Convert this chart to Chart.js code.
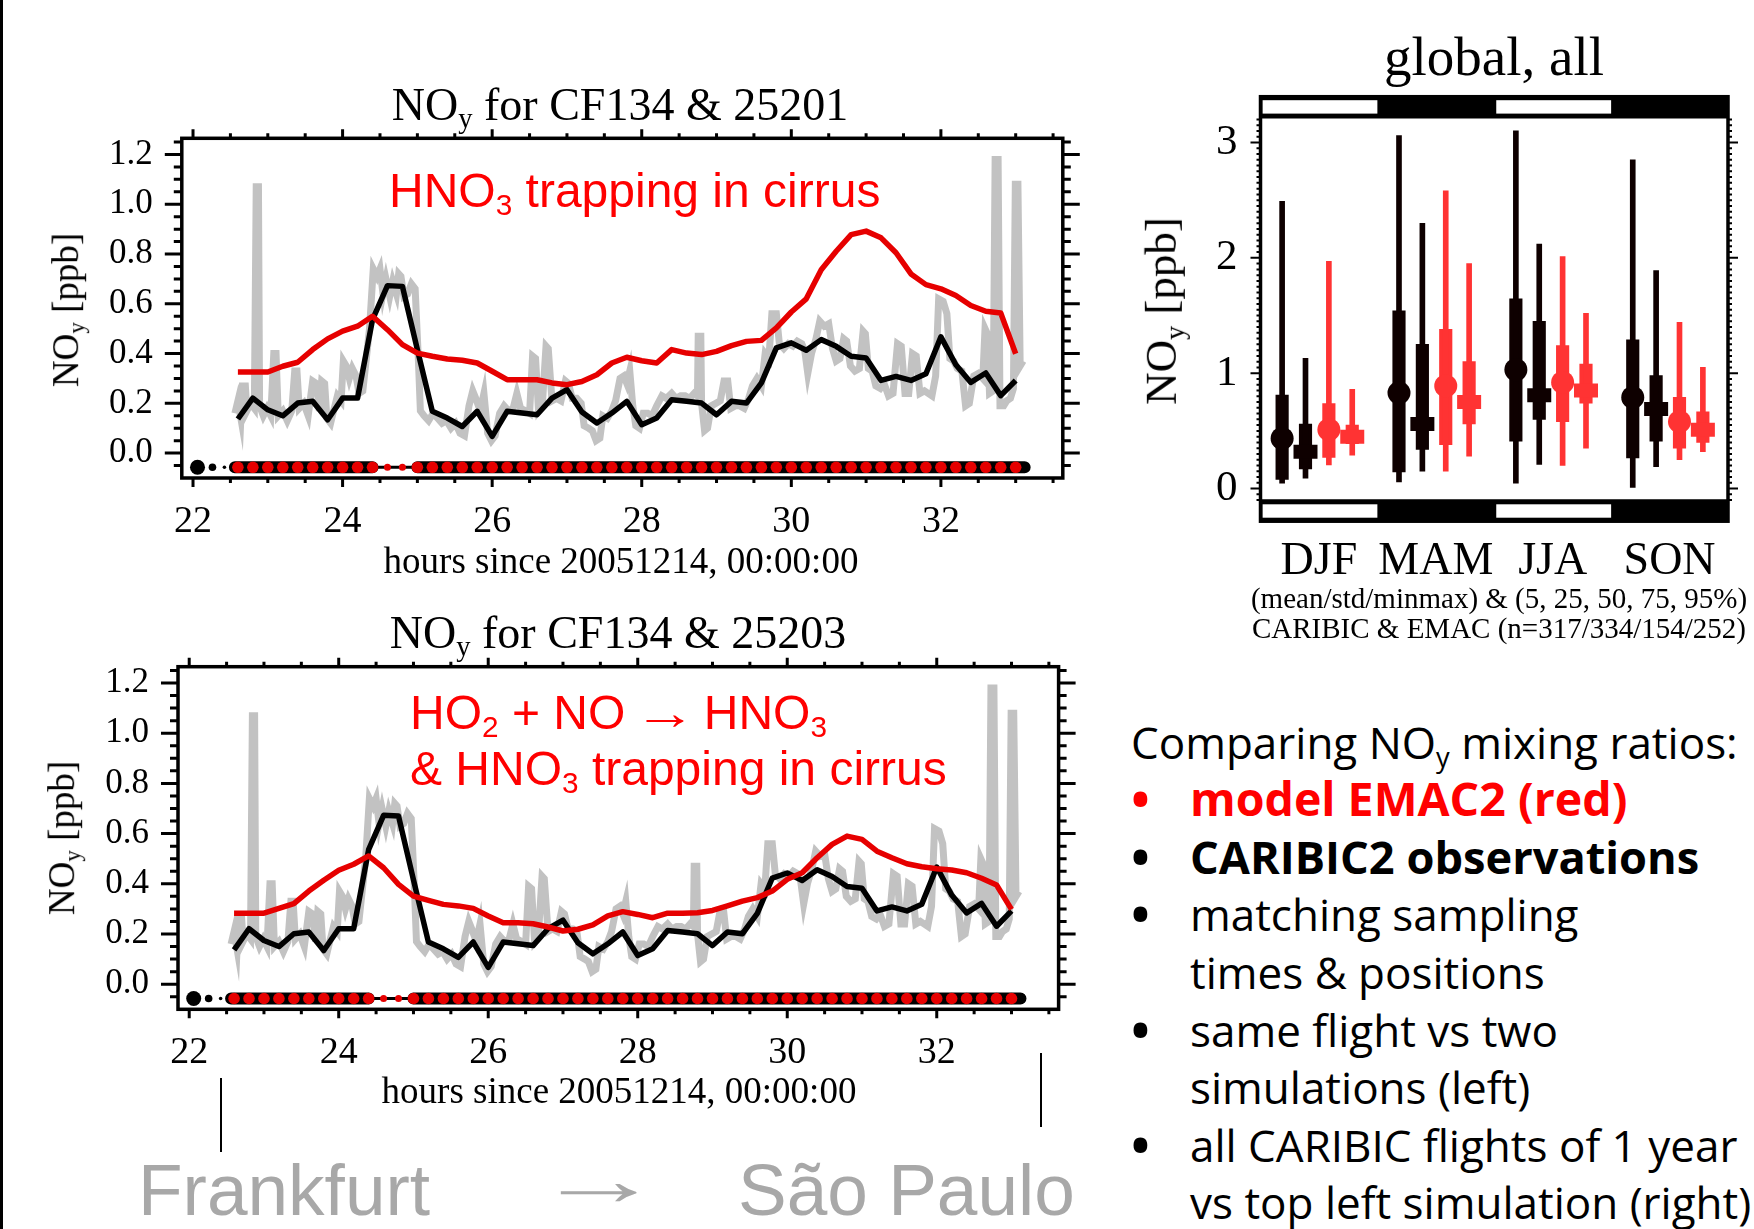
<!DOCTYPE html>
<html>
<head>
<meta charset="utf-8">
<script src="https://cdn.jsdelivr.net/npm/chart.js@4.4.1/dist/chart.umd.min.js"></script>
<style>
  html, body { margin: 0; padding: 0; }
  body { width: 1754px; height: 1229px; overflow: hidden; background: #fff; position: relative; }
  .box { position: absolute; }
  .box canvas { display: block; }
  .lbl { position: absolute; white-space: nowrap; line-height: 1.2; color: #000; }
  .bl { display: inline-block; width: 0; height: 0; }
  .lbl sub { font-size: 0.62em; vertical-align: -0.28em; line-height: 0; }
  .arr { display: inline-block; transform: scaleX(1.3); margin: 0 0.04em; }
  .arr-big { display: inline-block; transform: scaleX(1.75); }
  .vline { position: absolute; background: #000; width: 2px; }
</style>
</head>
<body>
<div class="vline" style="left:0;top:0;width:3px;height:1229px"></div>
<div class="box" style="left:0;top:60px;width:1110px;height:520px"><canvas id="cTop" width="1110" height="520"></canvas></div>
<div class="box" style="left:0;top:588px;width:1110px;height:520px"><canvas id="cBot" width="1110" height="520"></canvas></div>
<div class="box" style="left:1100px;top:20px;width:654px;height:600px"><canvas id="cSeas" width="654" height="600"></canvas></div>
<div class="vline" style="left:220px;top:1078px;height:74px"></div>
<div class="vline" style="left:1040px;top:1053px;height:74px"></div>

<script>
// ---- flight CF134, hours since 20051214 00:00 ----
const hours = [22.6, 22.8, 23.0, 23.2, 23.4, 23.6, 23.8, 24.0, 24.2, 24.4, 24.6, 24.8, 25.0,
  25.2, 25.4, 25.6, 25.8, 26.0, 26.2, 26.4, 26.6, 26.8, 27.0, 27.2, 27.4, 27.6, 27.8, 28.0,
  28.2, 28.4, 28.6, 28.8, 29.0, 29.2, 29.4, 29.6, 29.8, 30.0, 30.2, 30.4, 30.6, 30.8, 31.0,
  31.2, 31.4, 31.6, 31.8, 32.0, 32.2, 32.4, 32.6, 32.8, 33.0];

// CARIBIC2 NOy, averaged (black)
const obsAvg = [0.137, 0.221, 0.174, 0.150, 0.201, 0.208, 0.134, 0.221, 0.221, 0.536, 0.673, 0.670, 0.416,
  0.168, 0.141, 0.107, 0.168, 0.067, 0.168, 0.161, 0.154, 0.221, 0.255, 0.165, 0.121, 0.161, 0.208, 0.114,
  0.141, 0.214, 0.208, 0.201, 0.154, 0.208, 0.201, 0.282, 0.423, 0.443, 0.413, 0.456, 0.429, 0.389, 0.382,
  0.292, 0.308, 0.292, 0.319, 0.467, 0.355, 0.284, 0.322, 0.231, 0.292];

// EMAC2 simulation 25201 (top) and 25203 (bottom)
const model25201 = [0.326, 0.326, 0.326, 0.349, 0.365, 0.416, 0.459, 0.490, 0.510, 0.550, 0.496, 0.436, 0.402,
  0.389, 0.378, 0.373, 0.362, 0.329, 0.295, 0.295, 0.295, 0.282, 0.275, 0.288, 0.315, 0.362, 0.385, 0.371,
  0.362, 0.416, 0.402, 0.396, 0.409, 0.432, 0.449, 0.453, 0.503, 0.567, 0.620, 0.737, 0.811, 0.878, 0.892,
  0.865, 0.805, 0.720, 0.677, 0.660, 0.633, 0.593, 0.570, 0.563, 0.399];
const model25203 = [0.283, 0.283, 0.283, 0.302, 0.321, 0.371, 0.414, 0.454, 0.478, 0.511, 0.464, 0.398, 0.351,
  0.334, 0.318, 0.312, 0.302, 0.272, 0.245, 0.245, 0.241, 0.228, 0.212, 0.219, 0.236, 0.272, 0.289, 0.278,
  0.265, 0.283, 0.283, 0.285, 0.294, 0.312, 0.331, 0.345, 0.371, 0.418, 0.444, 0.504, 0.557, 0.590, 0.577,
  0.530, 0.504, 0.480, 0.468, 0.460, 0.455, 0.444, 0.422, 0.395, 0.298];

// CARIBIC2 NOy, full resolution (grey)
const rawHours = [22.56, 22.60, 22.64, 22.66, 22.70, 22.72, 22.77, 22.82, 22.845, 22.875, 22.89, 22.94, 22.99,
  23.04, 23.08, 23.11, 23.14, 23.20, 23.26, 23.32, 23.36, 23.39, 23.42, 23.48, 23.54, 23.60, 23.65, 23.69,
  23.72, 23.76, 23.79, 23.84, 23.88, 23.93, 23.98, 24.01, 24.05, 24.09, 24.13, 24.18, 24.22, 24.27, 24.31,
  24.36, 24.41, 24.46, 24.50, 24.54, 24.58, 24.63, 24.67, 24.72, 24.75, 24.78, 24.82, 24.87, 24.92, 24.97,
  25.01, 25.04, 25.09, 25.15, 25.21, 25.27, 25.33, 25.39, 25.45, 25.51, 25.57, 25.63, 25.69, 25.74, 25.78,
  25.84, 25.89, 25.94, 25.99, 26.04, 26.10, 26.16, 26.22, 26.28, 26.33, 26.38, 26.45, 26.50, 26.54, 26.58,
  26.62, 26.67, 26.72, 26.75, 26.80, 26.86, 26.92, 26.98, 27.02, 27.07, 27.13, 27.19, 27.23, 27.29, 27.34,
  27.39, 27.44, 27.48, 27.54, 27.60, 27.65, 27.71, 27.76, 27.80, 27.84, 27.88, 27.92, 27.97, 28.02, 28.08,
  28.14, 28.20, 28.27, 28.33, 28.40, 28.46, 28.52, 28.58, 28.64, 28.70, 28.745, 28.755, 28.79, 28.80, 28.84,
  28.88, 28.93, 28.99, 29.05, 29.10, 29.15, 29.19, 29.25, 29.31, 29.37, 29.43, 29.48, 29.54, 29.60, 29.65,
  29.70, 29.74, 29.80, 29.84, 29.90, 29.96, 30.02, 30.08, 30.14, 30.18, 30.22, 30.27, 30.33, 30.38, 30.44,
  30.50, 30.55, 30.60, 30.65, 30.70, 30.74, 30.79, 30.85, 30.91, 30.96, 30.99, 31.03, 31.08, 31.13, 31.19,
  31.24, 31.30, 31.36, 31.42, 31.47, 31.52, 31.57, 31.62, 31.67, 31.72, 31.78, 31.83, 31.88, 31.93, 31.97,
  32.03, 32.08, 32.12, 32.17, 32.22, 32.28, 32.33, 32.38, 32.44, 32.50, 32.56, 32.59, 32.62, 32.65, 32.70,
  32.725, 32.765, 32.79, 32.84, 32.88, 32.93, 32.97, 32.995, 33.03, 33.06, 33.10];
const rawObs = [0.16, 0.21, 0.14, 0.27, 0.27, 0.17, 0.20, 0.18, 1.07, 1.07, 0.19, 0.15, 0.18,
  0.15, 0.40, 0.40, 0.15, 0.17, 0.13, 0.17, 0.33, 0.33, 0.18, 0.20, 0.15, 0.29, 0.28, 0.17,
  0.29, 0.28, 0.14, 0.12, 0.17, 0.23, 0.21, 0.37, 0.35, 0.30, 0.34, 0.31, 0.24, 0.25, 0.36,
  0.50, 0.74, 0.71, 0.74, 0.64, 0.70, 0.63, 0.69, 0.64, 0.72, 0.71, 0.63, 0.64, 0.68, 0.66,
  0.40, 0.17, 0.15, 0.13, 0.16, 0.14, 0.12, 0.13, 0.10, 0.12, 0.08, 0.07, 0.19, 0.25, 0.22,
  0.17, 0.24, 0.08, 0.05, 0.07, 0.16, 0.19, 0.17, 0.18, 0.24, 0.18, 0.17, 0.16, 0.39, 0.38,
  0.17, 0.19, 0.43, 0.42, 0.21, 0.22, 0.21, 0.29, 0.28, 0.22, 0.22, 0.20, 0.11, 0.10, 0.09,
  0.05, 0.06, 0.15, 0.14, 0.17, 0.21, 0.30, 0.31, 0.28, 0.33, 0.19, 0.11, 0.10, 0.16, 0.16,
  0.15, 0.19, 0.23, 0.22, 0.24, 0.22, 0.23, 0.23, 0.22, 0.24, 0.23, 0.47, 0.47, 0.20, 0.09,
  0.10, 0.19, 0.20, 0.21, 0.29, 0.29, 0.18, 0.19, 0.19, 0.18, 0.22, 0.27, 0.30, 0.27, 0.40,
  0.38, 0.56, 0.56, 0.44, 0.42, 0.44, 0.43, 0.45, 0.44, 0.41, 0.32, 0.40, 0.46, 0.53, 0.51,
  0.52, 0.42, 0.37, 0.38, 0.46, 0.45, 0.35, 0.33, 0.34, 0.49, 0.48, 0.34, 0.33, 0.27, 0.26,
  0.28, 0.23, 0.24, 0.44, 0.43, 0.24, 0.24, 0.40, 0.39, 0.24, 0.25, 0.24, 0.23, 0.31, 0.62,
  0.61, 0.56, 0.38, 0.37, 0.34, 0.33, 0.19, 0.20, 0.31, 0.32, 0.30, 0.50, 0.48, 0.24, 0.25,
  1.18, 1.18, 0.19, 0.19, 0.21, 0.22, 0.26, 1.08, 1.08, 0.35, 0.37];

// sample flags along the bottom of each panel
const obsFlagSpans = [[22.56, 24.40], [25.00, 33.12]];
const obsFlagThin = [24.40, 25.00];
const leadFlagHours = [22.06, 22.26, 22.42];
const smallFlagHours = [24.6, 24.8];

const xTickVals = [22, 24, 26, 28, 30, 32];
const yTickVals = [0, 0.2, 0.4, 0.6, 0.8, 1.0, 1.2];

// ---- seasonal statistics, global, all ----
const seasons = ['DJF', 'MAM', 'JJA', 'SON'];
const obsMin = [0.046, 0.057, 0.046, 0.01];
const obsMax = [2.49, 3.06, 3.10, 2.85];
const obsStdLo = [0.08, 0.145, 0.41, 0.265];
const obsStdHi = [0.81, 1.54, 1.645, 1.29];
const obsMean = [0.435, 0.83, 1.03, 0.79];
const obsP5 = [0.09, 0.15, 0.21, 0.19];
const obsP25 = [0.17, 0.34, 0.60, 0.41];
const obsP50 = [0.32, 0.56, 0.81, 0.69];
const obsP75 = [0.56, 1.25, 1.45, 0.98];
const obsP95 = [1.13, 2.30, 2.12, 1.89];
const modMin = [0.205, 0.15, 0.20, 0.25];
const modMax = [1.97, 2.58, 2.01, 1.44];
const modStdLo = [0.27, 0.38, 0.58, 0.35];
const modStdHi = [0.736, 1.38, 1.24, 0.79];
const modMean = [0.51, 0.89, 0.92, 0.58];
const modP5 = [0.29, 0.28, 0.35, 0.32];
const modP25 = [0.39, 0.56, 0.74, 0.40];
const modP50 = [0.45, 0.75, 0.85, 0.51];
const modP75 = [0.55, 1.10, 1.08, 0.665];
const modP95 = [0.86, 1.95, 1.52, 1.05];
const seasTickVals = [0, 1, 2, 3];

Chart.defaults.font.family = "'Liberation Serif', 'Times New Roman', serif";
Chart.defaults.color = '#000';

const RED = '#e60000';
const FLAG_Y = -0.057;

const frameTicks = {
  id: 'frameTicks',
  afterDatasetsDraw(chart) {
    const { ctx, chartArea: a, scales: { x, y } } = chart;
    ctx.save();
    ctx.strokeStyle = '#000';
    ctx.lineWidth = 3;
    ctx.beginPath();
    for (let k = 44; k <= 67; k++) {
      const px = x.getPixelForValue(k / 2);
      const len = k % 4 === 0 ? 9 : 5;
      ctx.moveTo(px, a.top); ctx.lineTo(px, a.top - len);
      ctx.moveTo(px, a.bottom); ctx.lineTo(px, a.bottom + len);
    }
    for (let k = -1; k <= 25; k++) {
      const py = y.getPixelForValue(k * 0.05);
      const len = k % 4 === 0 ? 17 : 8;
      ctx.moveTo(a.left, py); ctx.lineTo(a.left - len, py);
      ctx.moveTo(a.right, py); ctx.lineTo(a.right + len, py);
    }
    ctx.stroke();
    ctx.lineWidth = 3.5;
    ctx.strokeRect(a.left, a.top, a.right - a.left, a.bottom - a.top);
    ctx.restore();
  }
};

function flightChart(id, model, pad) {
  const pts = (xs, ys) => xs.map((h, i) => ({ x: h, y: ys[i] }));
  const spans = [];
  obsFlagSpans.forEach((s, i) => {
    if (i) spans.push({ x: (obsFlagSpans[i - 1][1] + s[0]) / 2, y: null });
    spans.push({ x: s[0], y: FLAG_Y }, { x: s[1], y: FLAG_Y });
  });
  return new Chart(document.getElementById(id), {
    type: 'line',
    data: {
      datasets: [
        { label: 'EMAC2', data: pts(hours, model), borderColor: RED, borderWidth: 5.5, order: 0 },
        { label: 'CARIBIC2 mean', data: pts(hours, obsAvg), borderColor: '#000', borderWidth: 5.5, order: 1 },
        { label: 'CARIBIC2', data: pts(rawHours, rawObs), borderColor: '#c2c2c2', borderWidth: 7,
          borderJoinStyle: 'miter', order: 2 },
        { label: 'model samples', data: hours.map(h => ({ x: h, y: FLAG_Y })), showLine: false,
          pointRadius: c => smallFlagHours.includes(hours[c.dataIndex]) ? 3.5 : 5.8,
          pointBackgroundColor: RED, pointBorderWidth: 0, order: 3 },
        { label: 'obs samples', data: spans, borderColor: '#000', borderWidth: 12,
          borderCapStyle: 'round', order: 4 },
        { label: 'obs gap', data: obsFlagThin.map(h => ({ x: h, y: FLAG_Y })), borderColor: '#000',
          borderWidth: 3, order: 5 },
        { label: 'lead', data: leadFlagHours.map(h => ({ x: h, y: FLAG_Y })), showLine: false,
          pointRadius: [7.5, 3.8, 1.8], pointBackgroundColor: '#000', pointBorderWidth: 0, order: 6 }
      ]
    },
    options: {
      responsive: false,
      devicePixelRatio: 1,
      animation: false,
      events: [],
      elements: { point: { radius: 0 }, line: { tension: 0, borderJoinStyle: 'round' } },
      layout: { padding: pad },
      plugins: { legend: { display: false }, tooltip: { enabled: false } },
      scales: {
        x: {
          type: 'linear', min: 21.85, max: 33.63,
          grid: { display: false, drawTicks: false }, border: { display: false },
          ticks: { font: { size: 38 }, padding: 21, maxRotation: 0, autoSkip: false, callback: v => String(v) },
          afterBuildTicks: s => { s.ticks = xTickVals.map(v => ({ value: v })); },
          afterFit: s => { s.height = 60; }
        },
        y: {
          type: 'linear', min: -0.1, max: 1.265,
          grid: { display: false, drawTicks: false }, border: { display: false },
          ticks: { font: { size: 35 }, padding: 29, callback: v => v.toFixed(1) },
          afterBuildTicks: s => { s.ticks = yTickVals.map(v => ({ value: v })); },
          afterFit: s => { s.width = 150; }
        }
      }
    },
    plugins: [frameTicks]
  });
}

flightChart('cTop', model25201, { left: 31.8, right: 47.2, top: 78.3, bottom: 42 });
flightChart('cBot', model25203, { left: 28, right: 51.4, top: 78.7, bottom: 38.7 });

// ---- seasonal panel ----
const OBS_C = '#0e0000';
const MOD_C = '#ff3333';
const glyphOffset = [0.185, 0.385, 0.585, 0.785];
const BAND = 20.4;

const seasonFrame = {
  id: 'seasonFrame',
  afterDatasetsDraw(chart) {
    const { ctx, chartArea: a, scales: { x, y } } = chart;
    ctx.save();
    ctx.fillStyle = '#000';
    ctx.fillRect(a.left, a.top - BAND, a.right - a.left, BAND);
    ctx.fillRect(a.left, a.bottom, a.right - a.left, BAND);
    ctx.fillStyle = '#fff';
    seasons.forEach((s, i) => {
      if (i % 2) return;
      const x0 = x.getPixelForValue(i) + 2, x1 = x.getPixelForValue(i + 1);
      ctx.fillRect(x0, a.top - BAND + 3.5, x1 - x0, BAND - 7);
      ctx.fillRect(x0, a.bottom + 3.5, x1 - x0, BAND - 7);
    });
    ctx.strokeStyle = '#000';
    ctx.lineWidth = 3.5;
    ctx.strokeRect(a.left, a.top - BAND, a.right - a.left, a.bottom - a.top + 2 * BAND);
    ctx.lineWidth = 3;
    ctx.beginPath();
    ctx.moveTo(a.left, a.top); ctx.lineTo(a.right, a.top);
    ctx.moveTo(a.left, a.bottom); ctx.lineTo(a.right, a.bottom);
    ctx.stroke();
    ctx.lineWidth = 2;
    ctx.beginPath();
    for (let k = -2; k <= 64; k++) {
      const v = k * 0.05;
      if (v < y.min || v > y.max) continue;
      const py = y.getPixelForValue(v);
      const len = k % 20 === 0 ? 10 : 4;
      ctx.moveTo(a.left, py); ctx.lineTo(a.left - len, py);
      ctx.moveTo(a.right, py); ctx.lineTo(a.right + len, py);
    }
    ctx.stroke();
    ctx.restore();
  }
};

function bars(k, lo, hi, color, w) {
  return { type: 'bar', data: seasons.map((s, i) => ({ x: i + glyphOffset[k], y: [lo[i], hi[i]] })),
    backgroundColor: color, barThickness: w, grouped: false, order: 5 };
}
function marks(k, vals, color, style) {
  const d = { type: 'scatter', data: seasons.map((s, i) => ({ x: i + glyphOffset[k], y: vals[i] })), order: 1 };
  if (style === 'circle') Object.assign(d, { pointStyle: 'circle', pointRadius: 11.5, pointBackgroundColor: color, pointBorderWidth: 0 });
  else Object.assign(d, { pointStyle: 'line', pointRadius: 12, pointBorderColor: color, pointBorderWidth: 14 });
  return d;
}

new Chart(document.getElementById('cSeas'), {
  type: 'bar',
  data: {
    datasets: [
      bars(0, obsMin, obsMax, OBS_C, 5), bars(0, obsStdLo, obsStdHi, OBS_C, 12.5), marks(0, obsMean, OBS_C, 'circle'),
      bars(1, obsP5, obsP95, OBS_C, 5), bars(1, obsP25, obsP75, OBS_C, 12.5), marks(1, obsP50, OBS_C, 'line'),
      bars(2, modMin, modMax, MOD_C, 5), bars(2, modStdLo, modStdHi, MOD_C, 12.5), marks(2, modMean, MOD_C, 'circle'),
      bars(3, modP5, modP95, MOD_C, 5), bars(3, modP25, modP75, MOD_C, 12.5), marks(3, modP50, MOD_C, 'line')
    ]
  },
  options: {
    responsive: false,
    devicePixelRatio: 1,
    animation: false,
    events: [],
    layout: { padding: { left: 60.5, right: 24.3, top: 97.1, bottom: 19.2 } },
    plugins: { legend: { display: false }, tooltip: { enabled: false } },
    scales: {
      x: {
        type: 'linear', min: 0, max: 4, offset: false,
        grid: { display: false, drawTicks: false, offset: false }, border: { display: false },
        ticks: { font: { size: 46 }, padding: 34, maxRotation: 0, autoSkip: false,
          callback: (v, i) => seasons[i] },
        afterBuildTicks: s => { s.ticks = seasons.map((n, i) => ({ value: i + 0.5 })); },
        afterFit: s => { s.height = 100; }
      },
      y: {
        type: 'linear', min: -0.106, max: 3.22,
        grid: { display: false, drawTicks: false }, border: { display: false },
        ticks: { font: { size: 43 }, padding: 23, callback: v => String(v) },
        afterBuildTicks: s => { s.ticks = seasTickVals.map(v => ({ value: v })); },
        afterFit: s => { s.width = 100; }
      }
    }
  },
  plugins: [seasonFrame]
});

// ---- text ----
function label(html, x, base, font, opts = {}) {
  const d = document.createElement('div');
  d.className = 'lbl';
  d.style.font = font;
  if (opts.color) d.style.color = opts.color;
  d.innerHTML = html + '<span class="bl"></span>';
  document.body.appendChild(d);
  const r = d.getBoundingClientRect();
  const b = d.querySelector('.bl').getBoundingClientRect().top - r.top;
  const align = opts.align || 'left';
  const dx = align === 'center' ? r.width / 2 : align === 'right' ? r.width : 0;
  d.style.left = (x - dx) + 'px';
  d.style.top = (base - b) + 'px';
  if (opts.rotate) {
    d.style.transformOrigin = dx + 'px ' + b + 'px';
    d.style.transform = 'rotate(' + opts.rotate + 'deg)';
  }
  return d;
}

const SERIF = "'Liberation Serif', 'Times New Roman', serif";
const SANS = "'Liberation Sans', Arial, sans-serif";
const OPEN = "'Open Sans', 'Noto Sans', sans-serif";

label('NO<sub>y</sub> for CF134 &amp; 25201', 620, 120, '46px ' + SERIF, { align: 'center' });
label('NO<sub>y</sub> [ppb]', 78, 310, '37px ' + SERIF, { align: 'center', rotate: -90 });
label('HNO<sub>3</sub> trapping in cirrus', 389, 206.5, '48px ' + SANS, { color: '#ff0000' });
label('hours since 20051214, 00:00:00', 621, 573, '37px ' + SERIF, { align: 'center' });

label('NO<sub>y</sub> for CF134 &amp; 25203', 618, 648, '46px ' + SERIF, { align: 'center' });
label('NO<sub>y</sub> [ppb]', 74, 838, '37px ' + SERIF, { align: 'center', rotate: -90 });
label('HO<sub>2</sub> + NO <span class="arr">&rarr;</span> HNO<sub>3</sub>', 410, 728.5, '48px ' + SANS, { color: '#ff0000' });
label('&amp; HNO<sub>3</sub> trapping in cirrus', 410, 785, '48px ' + SANS, { color: '#ff0000' });
label('hours since 20051214, 00:00:00', 619, 1103, '37px ' + SERIF, { align: 'center' });

label('global, all', 1494, 75, '55px ' + SERIF, { align: 'center' });
label('NO<sub>y</sub> [ppb]', 1176, 311, '45px ' + SERIF, { align: 'center', rotate: -90 });
label('(mean/std/minmax) &amp; (5, 25, 50, 75, 95%)', 1499, 607.5, '29px ' + SERIF, { align: 'center' });
label('CARIBIC &amp; EMAC (n=317/334/154/252)', 1499, 637.5, '29px ' + SERIF, { align: 'center' });

const bulletLines = [
  { t: 'Comparing NO<sub>y</sub> mixing ratios:', dot: false },
  { t: '<b>model EMAC2 (red)</b>', dot: true, c: '#ff0000', size: 46.5 },
  { t: '<b>CARIBIC2 observations</b>', dot: true, size: 45.2 },
  { t: 'matching sampling', dot: true },
  { t: 'times &amp; positions', dot: false },
  { t: 'same flight vs two', dot: true },
  { t: 'simulations (left)', dot: false },
  { t: 'all CARIBIC flights of 1 year', dot: true },
  { t: 'vs top left simulation (right)', dot: false }
];
bulletLines.forEach((l, i) => {
  const base = 758.8 + i * 57.55;
  const col = l.c || '#000';
  if (i === 0) { label(l.t, 1131, base, '44px ' + OPEN); return; }
  if (l.dot) label('&bull;', 1128, base + 7, '66px ' + OPEN, { color: col });
  label(l.t, 1190, base, (l.size || 44) + 'px ' + OPEN, { color: col });
});

label('Frankfurt', 138, 1215, '73px ' + SANS, { color: '#a8a8a8' });
label('<span class="arr-big">&rarr;</span>', 562, 1205, '73px ' + SANS, { color: '#a8a8a8' });
label('S&atilde;o Paulo', 738, 1215, '73px ' + SANS, { color: '#a8a8a8' });
</script>
</body>
</html>
